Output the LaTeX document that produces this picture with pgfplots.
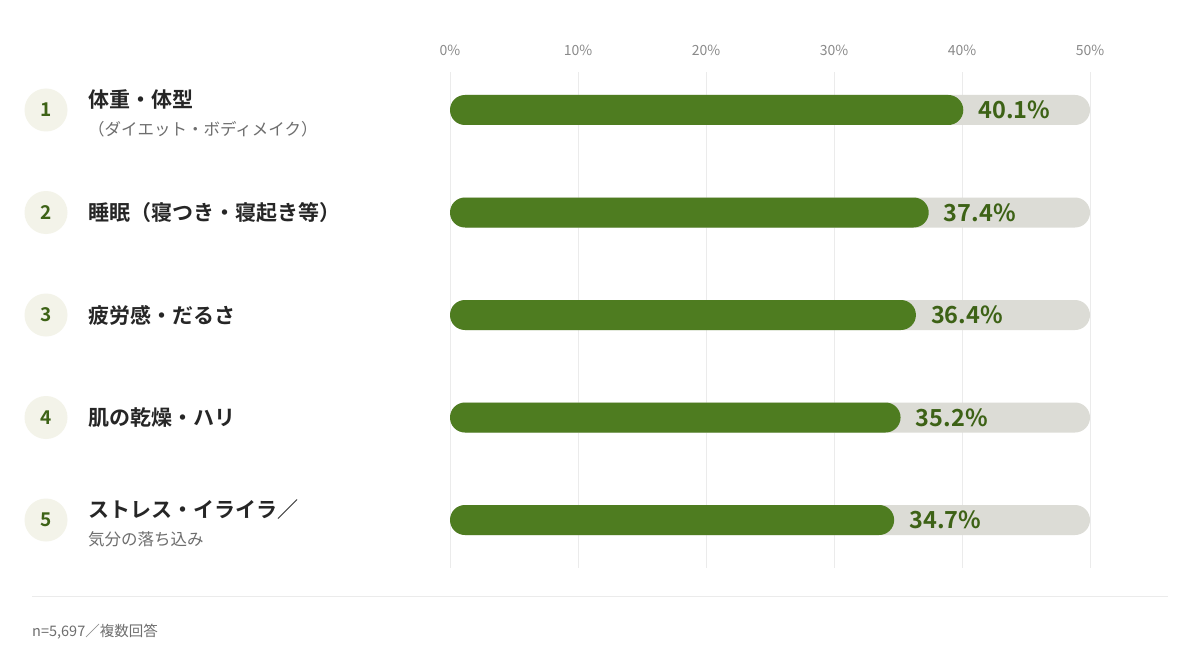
\documentclass[border=0pt]{standalone}
\usepackage{fontspec}
\setmainfont{Noto Sans CJK JP}[BoldFont={Noto Sans CJK JP Bold}]
\usepackage{pgfplots}
\pgfplotsset{compat=1.18}
\definecolor{barg}{HTML}{4E7C20}
\definecolor{valg}{HTML}{3D6216}
\definecolor{track}{HTML}{DCDCD6}
\definecolor{badge}{HTML}{F3F3E9}
\definecolor{labk}{HTML}{262626}
\definecolor{subg}{HTML}{6E6E6E}
\definecolor{tickg}{HTML}{8A8A8A}
\definecolor{gridg}{HTML}{EBEBEB}
\newcommand\subl[1]{{\mdseries\fontsize{16.5}{28}\selectfont\color{subg}#1}}
\newcommand\topstrut{\rule{0pt}{25pt}}
\newcommand\labA{\topstrut 体重・体型\\\subl{（ダイエット・ボディメイク）}}
\newcommand\labB{睡眠（寝つき・寝起き等）}
\newcommand\labC{疲労感・だるさ}
\newcommand\labD{肌の乾燥・ハリ}
\newcommand\labE{\topstrut ストレス・イライラ／\\\subl{気分の落ち込み}}
\begin{document}
\begin{tikzpicture}[x=1pt,y=1pt]
\path[fill=white, use as bounding box] (0,0) rectangle (1200,-660);
\begin{axis}[
 at={(450pt,-568pt)}, anchor=south west,
 scale only axis, width=640pt, height=496pt,
 xmin=0, xmax=50, ymin=0.6293, ymax=5.4683, y dir=reverse,
 clip=false,
 axis line style={draw=none},
 major tick length=0pt,
 xtick={0,10,...,50},
 xticklabel pos=upper,
 xticklabel={\pgfmathprintnumber{\tick}\%},
 xticklabel style={font=\fontsize{14}{16}\selectfont, text=tickg, inner sep=0pt, anchor=south, yshift=16pt},
 xmajorgrids, grid style={gridg, line width=1pt},
 ytick={1,2,3,4,5},
 yticklabels={\labA,\labB,\labC,\labD,\labE},
 yticklabel style={anchor=west, inner sep=0pt, xshift=-362pt, align=left, font=\fontsize{21}{28}\selectfont\bfseries, text=labk},
 /pgf/number format/assume math mode=true,
]
% rank badges
\addplot[draw=none, nodes near coords, point meta=explicit symbolic,
  nodes near coords align={center},
  every node near coord/.style={circle, fill=badge, minimum size=43pt, inner sep=0pt, anchor=center, text=valg, font=\fontsize{19}{20}\selectfont\bfseries}]
  table[meta=r] {
  x y r
  -31.5625 1 1
  -31.5625 2 2
  -31.5625 3 3
  -31.5625 4 4
  -31.5625 5 5
  };
% background track
\addplot[xbar, bar width=30pt, bar shift=0pt, fill=track, draw=none, rounded corners=15pt]
  coordinates {(50,1) (50,2) (50,3) (50,4) (50,5)};
% values
\addplot[xbar, bar width=30pt, bar shift=0pt, fill=barg, draw=none, rounded corners=15pt,
  point meta=x,
  nodes near coords={\pgfmathprintnumber[fixed,fixed zerofill,precision=1]{\pgfplotspointmeta}\%},
  nodes near coords style={anchor=west, inner sep=0pt, xshift=15pt, text=valg, font=\fontsize{23.5}{26}\selectfont\bfseries}]
  coordinates {(40.1,1) (37.4,2) (36.4,3) (35.2,4) (34.7,5)};
\end{axis}
\draw[gridg, line width=1pt] (32,-596) -- (1168,-596);
\node[anchor=west, inner sep=0pt, text=subg, font=\fontsize{14.5}{16}\selectfont] at (32,-632) {n=5,697／複数回答};
\end{tikzpicture}
\end{document}
